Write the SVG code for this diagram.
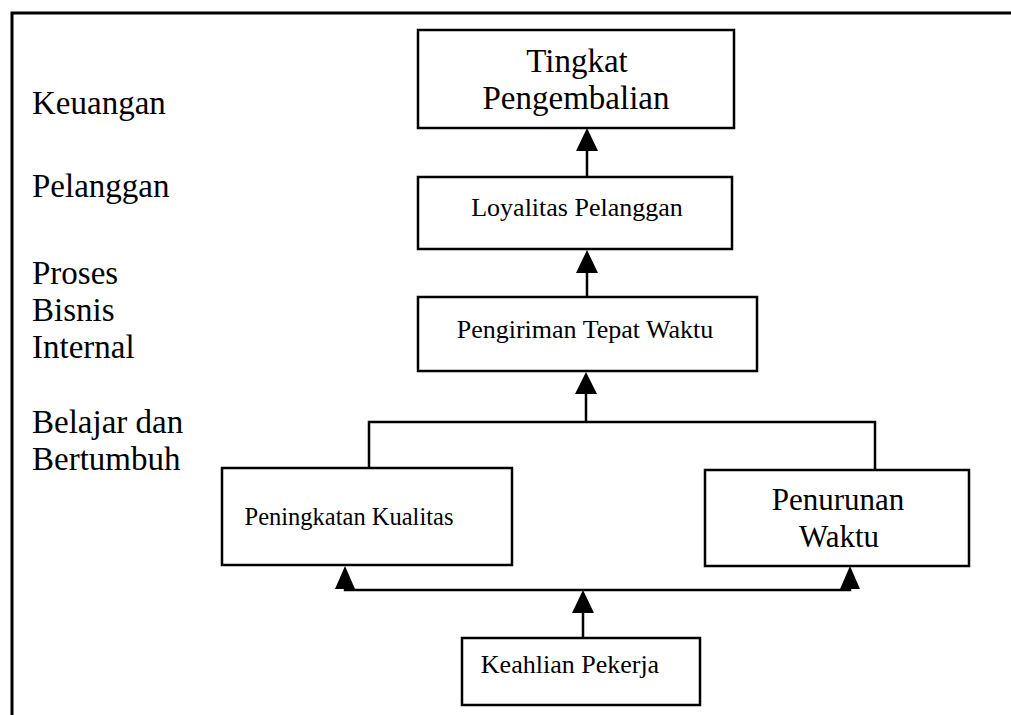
<svg xmlns="http://www.w3.org/2000/svg" width="1011" height="715" viewBox="0 0 1011 715">
  <style>
    .box { fill: #fff; stroke: #000; stroke-width: 2.5; }
    .frame { fill: none; stroke: #000; stroke-width: 3; }
    .wire { fill: none; stroke: #000; stroke-width: 2.5; }
    .head { fill: #000; }
    text { font-family: "Liberation Serif", "Times New Roman", serif; fill: #000; }
    .lbl { font-size: 33px; }
    .big { font-size: 33px; text-anchor: middle; }
    .mid { font-size: 31px; text-anchor: middle; }
    .sm { font-size: 26px; text-anchor: middle; }
  </style>

  <!-- outer frame: top and left rules -->
  <path class="frame" d="M12 715 V13 H1011"/>

  <!-- perspective labels -->
  <g id="perspectives">
    <text class="lbl" x="32" y="114">Keuangan</text>
    <text class="lbl" x="32" y="197">Pelanggan</text>
    <text class="lbl" x="32" y="284">Proses</text>
    <text class="lbl" x="32" y="321">Bisnis</text>
    <text class="lbl" x="32" y="358">Internal</text>
    <text class="lbl" x="32" y="433">Belajar dan</text>
    <text class="lbl" x="32" y="470">Bertumbuh</text>
  </g>

  <!-- connectors -->
  <g id="connectors">
    <line class="wire" x1="587" y1="177" x2="587" y2="148"/>
    <polygon class="head" points="587,128 576,151 598,151"/>

    <line class="wire" x1="587" y1="297" x2="587" y2="270"/>
    <polygon class="head" points="587,250 576,273 598,273"/>

    <path class="wire" d="M369 468 V422 H875 V470"/>
    <line class="wire" x1="586" y1="422" x2="586" y2="390"/>
    <polygon class="head" points="586,372 575,394 597,394"/>

    <path class="wire" d="M345 580 V590 H850 V580"/>
    <polygon class="head" points="345,566 335,589 355,589"/>
    <polygon class="head" points="850,566 840,589 860,589"/>

    <line class="wire" x1="583" y1="638" x2="583" y2="608"/>
    <polygon class="head" points="583,590 572,613 594,613"/>
  </g>

  <g id="tingkat-pengembalian">
    <rect class="box" x="418" y="30" width="316" height="98"/>
    <text class="big" x="577" y="72">Tingkat</text>
    <text class="big" x="576" y="109">Pengembalian</text>
  </g>

  <g id="loyalitas-pelanggan">
    <rect class="box" x="418" y="177" width="314" height="72"/>
    <text class="sm" x="577" y="216">Loyalitas Pelanggan</text>
  </g>

  <g id="pengiriman-tepat-waktu">
    <rect class="box" x="418" y="297" width="339" height="74"/>
    <text class="sm" x="585" y="338">Pengiriman Tepat Waktu</text>
  </g>

  <g id="peningkatan-kualitas">
    <rect class="box" x="222" y="468" width="290" height="97"/>
    <text class="sm" x="349" y="525" style="font-size:24.5px">Peningkatan Kualitas</text>
  </g>

  <g id="penurunan-waktu">
    <rect class="box" x="705" y="470" width="264" height="96"/>
    <text class="mid" x="838" y="510">Penurunan</text>
    <text class="mid" x="839" y="547">Waktu</text>
  </g>

  <g id="keahlian-pekerja">
    <rect class="box" x="462" y="638" width="238" height="67"/>
    <text class="sm" x="570" y="673">Keahlian Pekerja</text>
  </g>
</svg>
